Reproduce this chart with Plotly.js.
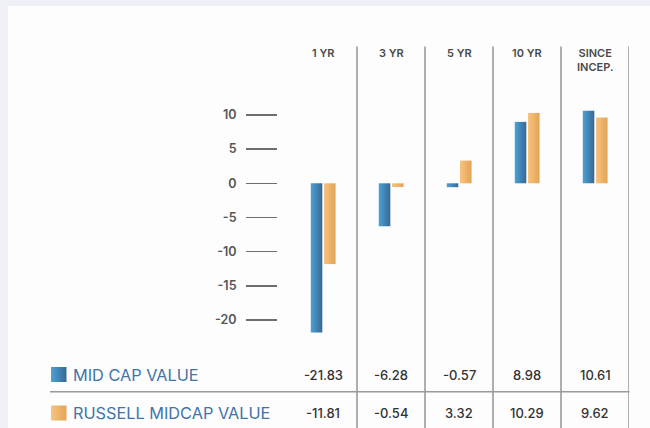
<!DOCTYPE html>
<html>
<head>
<meta charset="utf-8">
<script src="https://cdn.plot.ly/plotly-3.0.1.min.js"></script>
<style>
  html, body { margin: 0; padding: 0; background: #eff0f5; }
  #chart { width: 650px; height: 428px; }
</style>
</head>
<body>
<div id="chart"></div>
<script>
// ---- data ----
const categories = ['1 YR', '3 YR', '5 YR', '10 YR', 'SINCE INCEP.'];
const headerLabels = ['1 YR', '3 YR', '5 YR', '10 YR', 'SINCE<br>INCEP.'];
const seriesNames = ['MID CAP VALUE', 'RUSSELL MIDCAP VALUE'];
const midCapValue = [-21.83, -6.28, -0.57, 8.98, 10.61];
const russellMidcapValue = [-11.81, -0.54, 3.32, 10.29, 9.62];
const yTickVals = [-20, -15, -10, -5, 0, 5, 10];

// ---- geometry helpers (pixels -> paper) ----
const W = 650, H = 428;
const px = x => x / W;
const py = y => 1 - y / H;
const plotTop = 45, zeroPx = 183.3, pxPerUnit = 6.84;
const yRange = [-(H - zeroPx) / pxPerUnit, (zeroPx - plotTop) / pxPerUnit];

const blueScale = [[0, '#4ba2d6'], [1, '#386893']];
const orangeScale = [[0, '#f7c37f'], [1, '#e3a456']];
const FONT = 'Inter, "Open Sans", sans-serif';

const series = [
  { name: seriesNames[0], values: midCapValue, offset: -0.18, scale: blueScale },
  { name: seriesNames[1], values: russellMidcapValue, offset: 0.015, scale: orangeScale }
];
const barWidth = 0.17;

// each bar is a filled rectangle in data coordinates so it can carry a horizontal gradient
const traces = [];
series.forEach(s => {
  s.values.forEach((v, i) => {
    const x0 = i + s.offset, x1 = x0 + barWidth;
    traces.push({
      type: 'scatter', mode: 'none', name: s.name,
      x: [x0, x1, x1, x0, x0], y: [0, 0, v, v, 0],
      fill: 'toself',
      fillgradient: { type: 'horizontal', colorscale: s.scale, start: x0, stop: x1 },
      hoverinfo: 'skip', showlegend: false
    });
  });
});

// legend swatches on a full-page pixel-space axis pair
const swatches = [
  { top: 367, scale: blueScale },
  { top: 405.5, scale: orangeScale }
];
swatches.forEach(sw => {
  const x0 = 51, x1 = 66.5, y0 = sw.top, y1 = sw.top + 15;
  traces.push({
    type: 'scatter', mode: 'none', xaxis: 'x2', yaxis: 'y2',
    x: [x0, x1, x1, x0, x0], y: [y0, y0, y1, y1, y0],
    fill: 'toself',
    fillgradient: { type: 'horizontal', colorscale: sw.scale, start: x0, stop: x1 },
    hoverinfo: 'skip', showlegend: false
  });
});

const shapes = [
  // white panel
  { type: 'rect', xref: 'paper', yref: 'paper', x0: px(8), x1: 1, y0: 0, y1: py(6),
    fillcolor: '#fdfdfd', line: { width: 0 }, layer: 'below' },
  // horizontal separator under first table row
  { type: 'line', xref: 'paper', yref: 'paper', x0: px(50), x1: px(629.5), y0: py(391.7), y1: py(391.7),
    line: { color: '#9a9a9a', width: 1.6 } }
];
// vertical column separators
for (let i = 0; i < categories.length; i++) {
  shapes.push({ type: 'line', xref: 'x', yref: 'paper', x0: i + 0.5, x1: i + 0.5, y0: 0, y1: py(46.5),
    line: { color: '#9a9a9a', width: 1.6 } });
}

const annotations = [];
categories.forEach((c, i) => {
  annotations.push({ xref: 'x', yref: 'paper', x: i, y: py(44.5), yanchor: 'top', xanchor: 'center',
    text: headerLabels[i], showarrow: false, align: 'center',
    font: { family: FONT, size: 11, color: '#4a4a4a', weight: 600 } });
  annotations.push({ xref: 'x', yref: 'paper', x: i, y: py(374.5), yanchor: 'middle', xanchor: 'center',
    text: midCapValue[i].toFixed(2), showarrow: false,
    font: { family: FONT, size: 13, color: '#333', weight: 500 } });
  annotations.push({ xref: 'x', yref: 'paper', x: i, y: py(412.5), yanchor: 'middle', xanchor: 'center',
    text: russellMidcapValue[i].toFixed(2), showarrow: false,
    font: { family: FONT, size: 13, color: '#333', weight: 500 } });
});
annotations.push({ xref: 'paper', yref: 'paper', x: px(71), y: py(374.5), xanchor: 'left', yanchor: 'middle',
  text: seriesNames[0], showarrow: false, font: { family: FONT, size: 16.3, color: '#4174a7', weight: 400 } });
annotations.push({ xref: 'paper', yref: 'paper', x: px(71), y: py(412.5), xanchor: 'left', yanchor: 'middle',
  text: seriesNames[1], showarrow: false, font: { family: FONT, size: 16.3, color: '#4174a7', weight: 400 } });

const hidden = { showticklabels: false, showgrid: false, zeroline: false, showline: false, ticks: '', fixedrange: true };

const layout = {
  width: W, height: H,
  margin: { l: 0, r: 0, t: 0, b: 0 },
  paper_bgcolor: '#eff0f5',
  plot_bgcolor: 'rgba(0,0,0,0)',
  showlegend: false,
  xaxis: Object.assign({ domain: [px(289), px(629)], range: [-0.5, 4.5] }, hidden),
  yaxis: {
    domain: [0, py(plotTop)], range: yRange,
    anchor: 'free', position: px(277),
    tickvals: yTickVals, ticktext: yTickVals.map(String),
    ticks: 'outside', ticklen: 31, tickwidth: 1.4, tickcolor: '#6e6e6e',
    ticklabelstandoff: 7,
    tickfont: { family: FONT, size: 12.5, color: '#555', weight: 600 },
    showgrid: false, zeroline: false, showline: false, fixedrange: true
  },
  xaxis2: Object.assign({ domain: [0, 1], range: [0, W], anchor: 'y2' }, hidden),
  yaxis2: Object.assign({ domain: [0, 1], range: [H, 0], anchor: 'x2' }, hidden),
  shapes: shapes,
  annotations: annotations
};

Plotly.newPlot('chart', traces, layout, { displayModeBar: false, staticPlot: true });
</script>
</body>
</html>
